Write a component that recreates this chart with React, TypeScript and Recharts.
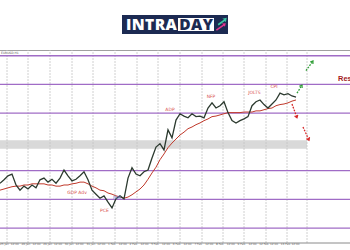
import {
	ComposedChart,
	Line,
	XAxis,
	YAxis,
	ReferenceLine,
	ReferenceArea,
	ReferenceDot
} from 'recharts'

// hourly closes (4 px per point)
const price = [
	1.0778, 1.0784, 1.0791, 1.0794, 1.0775, 1.0766, 1.0773, 1.0768, 1.0775, 1.077,
	1.0784, 1.0787, 1.078, 1.0785, 1.0778, 1.0787, 1.0801, 1.0791, 1.0782, 1.0785,
	1.0791, 1.0798, 1.0784, 1.0766, 1.0759, 1.0752, 1.0756, 1.0745, 1.0735, 1.0751,
	1.0756, 1.0751, 1.0787, 1.0805, 1.0794, 1.0791, 1.0798, 1.0801, 1.0822, 1.0841,
	1.0847, 1.0836, 1.0871, 1.0857, 1.0888, 1.0899, 1.0895, 1.0892, 1.0899, 1.0894,
	1.0895, 1.0892, 1.0909, 1.0918, 1.0909, 1.0913, 1.092, 1.0901, 1.0887, 1.0883,
	1.0887, 1.089, 1.0894, 1.0913, 1.092, 1.0923, 1.0915, 1.0909, 1.0916, 1.0923,
	1.0935, 1.0932, 1.0934, 1.093, 1.0928
]

const movingAvg = [
	1.0766, 1.0768, 1.077, 1.0772, 1.0773, 1.0773, 1.0775, 1.0775, 1.0777, 1.0777,
	1.0777, 1.0777, 1.0775, 1.0775, 1.0773, 1.0773, 1.0775, 1.0775, 1.0777, 1.0778,
	1.078, 1.078, 1.0777, 1.0773, 1.077, 1.0766, 1.0765, 1.0761, 1.0759, 1.0756,
	1.0754, 1.0752, 1.0754, 1.0758, 1.0763, 1.0768, 1.0775, 1.0785, 1.0796, 1.0806,
	1.0819, 1.0829, 1.084, 1.0848, 1.0855, 1.0862, 1.0867, 1.0873, 1.0876, 1.088,
	1.0883, 1.0887, 1.089, 1.0894, 1.0895, 1.0897, 1.0899, 1.0901, 1.0901, 1.0901,
	1.0901, 1.0902, 1.0902, 1.0902, 1.0904, 1.0904, 1.0906, 1.0908, 1.0909, 1.0913,
	1.0915, 1.0916, 1.0918, 1.0921, 1.0923
]

const days = [
	'25 Jan', '26 Jan', '29 Jan', '30 Jan', '31 Jan', '1 Feb', '2 Feb',
	'5 Feb', '6 Feb', '7 Feb', '8 Feb', '9 Feb', '12 Feb', '13 Feb'
]
const dayStarts = [1.75, 7, 12.5, 18, 23.25, 28.75, 34.25, 39.5, 45, 50.5, 55.75, 61, 66.5, 71.75, 76.75]

const levels = [1.1, 1.095, 1.09, 1.08, 1.075, 1.07]
const zone = [1.0838, 1.0853]

const events = [
	{ name: 'GDP Adv', i: 19.25, v: 1.0761, color: '#d9534f' },
	{ name: 'PCE', i: 26.1, v: 1.073, color: '#d9534f' },
	{ name: 'ISM', i: 29.25, v: 1.0752, color: '#6678c8' },
	{ name: 'ADP', i: 42.5, v: 1.0906, color: '#d9534f' },
	{ name: 'NFP', i: 52.75, v: 1.0928, color: '#d9534f' },
	{ name: 'JOLTS', i: 63.6, v: 1.0935, color: '#d9534f' },
	{ name: 'CPI', i: 68.5, v: 1.0946, color: '#d9534f' }
]

const scenarios = [
	{ from: [74.25, 1.0935], to: [75.5, 1.0949], color: '#2f9e36' },
	{ from: [76.5, 1.0974], to: [78.25, 1.0991], color: '#2f9e36' },
	{ from: [73, 1.0916], to: [74.25, 1.0892], color: '#d62728' },
	{ from: [75.75, 1.0876], to: [77.25, 1.0853], color: '#d62728' }
]

const data = price.map((p, i) => ({ i, price: p, ma: movingAvg[i] }))
const tickLabels = days.flatMap((d) => [d, '12:00'])
const ticks = tickLabels.map((_, k) => k * 2.7)

function Arrow(props: any) {
	const { x1, y1, x2, y2, stroke } = props
	const a = Math.atan2(y2 - y1, x2 - x1)
	const h = 3
	const l = [x2 - h * Math.cos(a - 0.6), y2 - h * Math.sin(a - 0.6)]
	const r = [x2 - h * Math.cos(a + 0.6), y2 - h * Math.sin(a + 0.6)]
	return (
		<g>
			<line x1={x1} y1={y1} x2={x2} y2={y2} stroke={stroke} strokeWidth={1.3} strokeDasharray="1.8 1.2" />
			<polyline points={`${l[0]},${l[1]} ${x2},${y2} ${r[0]},${r[1]}`} fill="none" stroke={stroke} strokeWidth={1.2} />
		</g>
	)
}

function Logo() {
	return (
		<div
			style={{
				position: 'absolute',
				left: 122,
				top: 15,
				width: 106,
				height: 19,
				background: '#1c2a52',
				display: 'flex',
				alignItems: 'center',
				fontFamily: '"Open Sans", sans-serif',
				fontWeight: 800,
				fontSize: 15.5,
				letterSpacing: 0.4,
				lineHeight: '13px'
			}}
		>
			<span style={{ color: '#fff', marginLeft: 4 }}>INTRA</span>
			<span style={{ background: '#fff', color: '#1c2a52', padding: '0 1px 0 1px', marginLeft: 1 }}>DAY</span>
			<svg width={14} height={17} viewBox="0 0 14 17" style={{ marginLeft: 1 }}>
				<path d="M3 8 L10 3 L8 2 L13 1 L12 6 L11 4.5 L4 9.5 Z" fill="#3cc6a4" />
				<path d="M1 14 L9 8.5 L7.5 7.5 L12 7 L11 11 L10 10 L2 15.5 Z" fill="#e2358e" />
			</svg>
		</div>
	)
}

export default function App() {
	return (
		<div style={{ position: 'absolute', left: 0, top: 0, width: 350, height: 250, background: '#fff', overflow: 'hidden' }}>
			<Logo />
			<div style={{ position: 'absolute', left: 0, top: 49.5, width: 350, borderTop: '1px solid #a0a0a0' }} />
			<div
				style={{
					position: 'absolute',
					left: 1,
					top: 50.5,
					fontSize: 3,
					color: '#555',
					fontFamily: 'DejaVu Sans, sans-serif'
				}}
			>
				EURUSD,H1
			</div>
			<div style={{ position: 'absolute', left: 0, top: 0 }}>
				<ComposedChart
					width={350}
					height={250}
					data={data}
					margin={{ top: 50, right: 0, bottom: 0, left: 0 }}
				>
					<XAxis
						dataKey="i"
						type="number"
						domain={[0, 87.5]}
						ticks={ticks}
						interval={0}
						height={7}
						tickLine={false}
						tickSize={0}
						tickMargin={0.5}
						axisLine={{ stroke: '#8a8a8a' }}
						tickFormatter={(_v: number, idx: number) => tickLabels[idx]}
						tick={{ fontSize: 2.8, fill: '#666', textAnchor: 'start', fontFamily: 'DejaVu Sans, sans-serif' }}
					/>
					<YAxis hide type="number" domain={[1.0674, 1.101]} />

					<ReferenceArea x1={0} x2={76.75} y1={zone[0]} y2={zone[1]} fill="#d9d9d9" fillOpacity={1} stroke="none" />

					{dayStarts.map((d) => (
						<ReferenceLine key={d} x={d} stroke="#c4c4c4" strokeWidth={0.8} strokeDasharray="2 1" />
					))}

					{levels.map((l) => (
						<ReferenceLine key={l} y={l} stroke="#a06cc6" strokeWidth={1.3} />
					))}

					<Line
						dataKey="ma"
						stroke="#c0392b"
						strokeWidth={1}
						dot={false}
						isAnimationActive={false}
					/>
					<Line
						dataKey="price"
						stroke="#2c3a2f"
						strokeWidth={1.3}
						dot={false}
						isAnimationActive={false}
					/>

					{events.map((e) => (
						<ReferenceDot
							key={e.name}
							x={e.i}
							y={e.v}
							r={0}
							shape={(p: any) => (
								<text
									x={p.cx}
									y={p.cy}
									fontSize={4.5}
									fill={e.color}
									textAnchor="middle"
									dominantBaseline="middle"
									fontFamily="DejaVu Sans, sans-serif"
								>
									{e.name}
								</text>
							)}
						/>
					))}

					{scenarios.map((s, k) => (
						<ReferenceLine
							key={k}
							segment={[
								{ x: s.from[0], y: s.from[1] },
								{ x: s.to[0], y: s.to[1] }
							]}
							stroke={s.color}
							shape={Arrow}
						/>
					))}

					<ReferenceDot
						x={84.5}
						y={1.096}
						r={0}
						shape={(p: any) => (
							<text
								x={p.cx}
								y={p.cy}
								fontSize={7.5}
								fontWeight={700}
								fill="#a31c1c"
								dominantBaseline="middle"
								fontFamily="Liberation Sans, Arial, sans-serif"
							>
								Resistance
							</text>
						)}
					/>
				</ComposedChart>
			</div>
		</div>
	)
}
